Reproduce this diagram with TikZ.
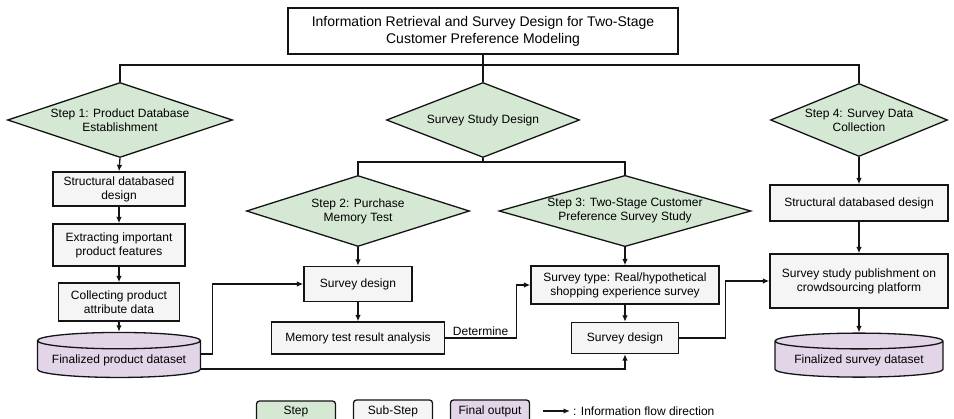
\documentclass[tikz,border=0pt]{standalone}
\usepackage{fontspec}
\setmainfont{Liberation Sans}
\usepackage{tikz}
\usepackage{xcolor}
\usetikzlibrary{arrows.meta, positioning, shapes.geometric, calc}
\definecolor{stepGreen}{RGB}{213,232,212}
\definecolor{subGray}{RGB}{245,245,245}
\definecolor{outPurple}{RGB}{225,213,231}
\definecolor{lineDark}{RGB}{20,20,20}
\tikzset{
    titlebox/.style={
        rectangle,
        draw=lineDark,
        line width=1.3pt,
        fill=white,
        align=center,
        minimum width=390pt,
        minimum height=46pt,
        font=\fontsize{14}{17}\selectfont
    },
    stepdiamond/.style={
        diamond,
        draw=lineDark,
        line width=1.3pt,
        fill=stepGreen,
        aspect=3,
        inner sep=-2pt,
        align=center,
        font=\fontsize{12}{14}\selectfont
    },
    substep/.style={
        rectangle,
        draw=lineDark,
        line width=1.3pt,
        fill=subGray,
        align=center,
        inner sep=1pt,
        font=\fontsize{12}{14}\selectfont
    },
    outcyl/.style={
        cylinder,
        shape border rotate=90,
        aspect=0.12,
        draw=lineDark,
        line width=1.3pt,
        cylinder uses custom fill,
        cylinder body fill=outPurple,
        cylinder end fill=outPurple,
        align=center,
        inner sep=1pt,
        font=\fontsize{12}{14}\selectfont
    },
    legendbox/.style={
        rectangle,
        draw=lineDark,
        line width=1.3pt,
        rounded corners=3pt,
        minimum width=79pt,
        minimum height=22pt,
        font=\fontsize{12}{14}\selectfont
    },
    flowarrow/.style={-{Latex[length=6.5pt,width=5.5pt]}, line width=1.3pt, draw=lineDark},
    treeline/.style={line width=1.3pt, draw=lineDark}
}

\begin{document}
\begin{tikzpicture}[x=1pt,y=-1pt]
    \useasboundingbox (0,0) rectangle (954,419);

    % title and steps
    \node[titlebox] (title) at (483,31) {Information Retrieval and Survey Design for Two-Stage\\Customer Preference Modeling};
    \node[stepdiamond, minimum width=225pt, minimum height=75pt] (s1) at (120,120) {Step 1: Product Database\\Establishment};
    \node[stepdiamond, minimum width=193pt, minimum height=75pt] (sd) at (483,120) {Survey Study Design};
    \node[stepdiamond, minimum width=177pt, minimum height=73pt] (s4) at (859,120) {Step 4: Survey Data\\Collection};
    \node[stepdiamond, minimum width=223pt, minimum height=71pt] (s2) at (358,211) {Step 2: Purchase\\Memory Test};
    \node[stepdiamond, minimum width=252pt, minimum height=71pt] (s3) at (625,211) {Step 3: Two-Stage Customer\\Preference Survey Study};

    \coordinate (j1) at (483,65);
    \coordinate (j2) at (483,162);
    \draw[treeline] (title.south) -- (sd.north);
    \draw[treeline] (s1.north) |- (j1) -| (s4.north);
    \draw[treeline] (sd.south) -- (j2);
    \draw[treeline] (s2.north) |- (j2) -| (s3.north);

    % step 1 column
    \node[substep, minimum width=132pt, minimum height=34pt] (b11) at (119,189) {Structural databased\\design};
    \node[substep, minimum width=132pt, minimum height=42pt] (b12) at (119,245) {Extracting important\\product features};
    \node[substep, minimum width=121pt, minimum height=38pt] (b13) at (119,302) {Collecting product\\attribute data};
    \node[outcyl, minimum width=163pt, minimum height=45pt] (pdb) at (119,360) {\raisebox{-6pt}{Finalized product dataset}};
    \draw[flowarrow] (s1.south) -- (b11.north);
    \draw[flowarrow] (b11.south) -- (b12.north);
    \draw[flowarrow] (b12.south) -- (b13.north);
    \draw[flowarrow] (b13.south) -- (pdb.north);

    % step 2 column
    \node[substep, minimum width=108pt, minimum height=35pt] (b21) at (358,284) {Survey design};
    \node[substep, minimum width=173pt, minimum height=32pt] (b22) at (358,338) {Memory test result analysis};
    \draw[flowarrow] (s2.south) -- (b21.north);
    \draw[flowarrow] (b21.south) -- (b22.north);

    % step 3 column
    \node[substep, minimum width=188pt, minimum height=38pt] (b31) at (625,285) {Survey type: Real/hypothetical\\shopping experience survey};
    \node[substep, minimum width=107pt, minimum height=31pt] (b32) at (625,338) {Survey design};
    \draw[flowarrow] (s3.south) -- (b31.north);
    \draw[flowarrow] (b31.south) -- (b32.north);

    % step 4 column
    \node[substep, minimum width=178pt, minimum height=36pt] (b41) at (859,203) {Structural databased design};
    \node[substep, minimum width=178pt, minimum height=54pt] (b42) at (859,281) {Survey study publishment on\\crowdsourcing platform};
    \node[outcyl, minimum width=168pt, minimum height=44pt] (sdb) at (859,360) {\raisebox{-6pt}{Finalized survey dataset}};
    \draw[flowarrow] (s4.south) -- (b41.north);
    \draw[flowarrow] (b41.south) -- (b42.north);
    \draw[flowarrow] (b42.south) -- (sdb.north);

    % cross links
    \draw[flowarrow] ([yshift=6pt]pdb.east) -- ++(11,0) |- (b21.west);
    \draw[flowarrow] ([yshift=-9pt]pdb.east) -| (b32.south);
    \draw[flowarrow] (b22.east) -- node[above, inner sep=2pt, font=\fontsize{12}{14}\selectfont]{Determine} ++(71,0) |- (b31.west);
    \draw[flowarrow] (b32.east) -- ++(46,0) |- (b42.west);

    % legend
    \node[legendbox, fill=stepGreen] (lg1) at (296,412) {Step};
    \node[legendbox, fill=subGray] (lg2) at (393,411) {Sub-Step};
    \node[legendbox, fill=outPurple] (lg3) at (490,411) {Final output};
    \coordinate (la) at (543,411);
    \node[anchor=west, inner sep=3pt, font=\fontsize{12}{14}\selectfont] (lgt) at (570,411) {: Information flow direction};
    \draw[flowarrow] (la) -- (lgt.west);
\end{tikzpicture}
\end{document}
